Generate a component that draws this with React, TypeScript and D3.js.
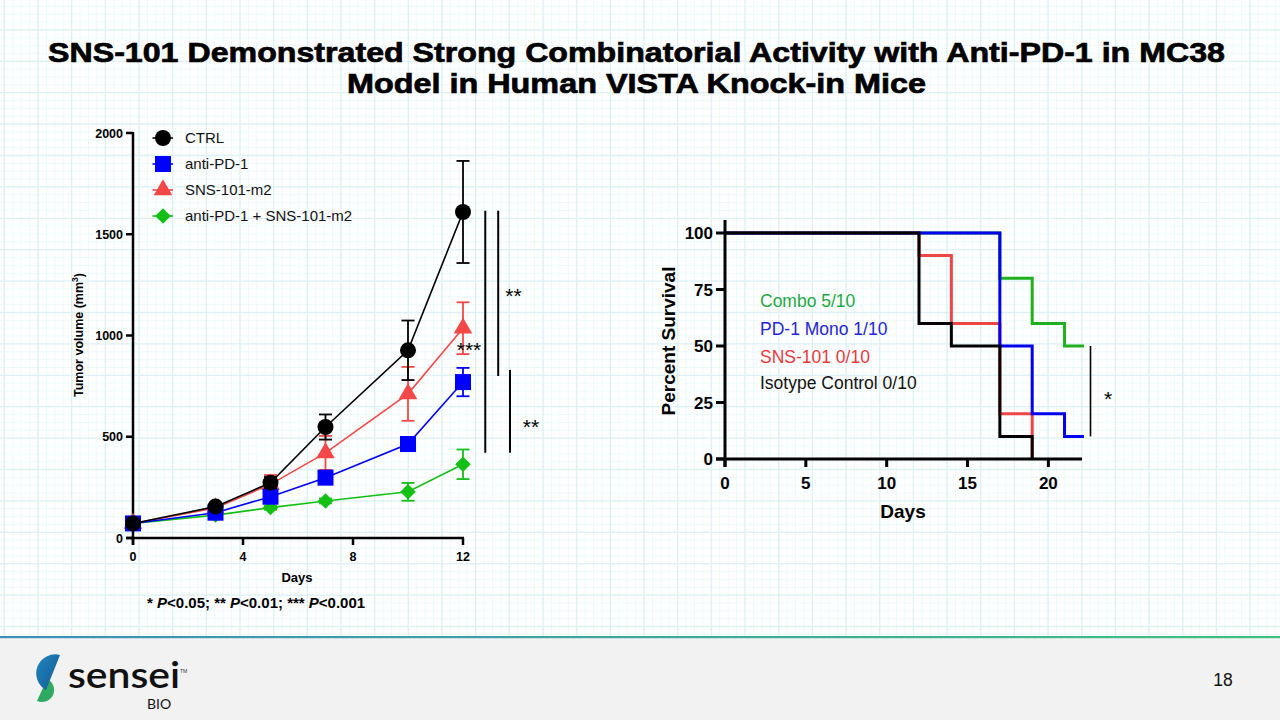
import React from 'react';
import * as d3 from 'd3';

// ---------- Tumor growth data ----------
const days = [0, 3, 5, 7, 10, 12];
const ctrlMean = [72, 155, 273, 548, 927, 1610];
const ctrlErr = [8, 12, 28, 62, 147, 252];
const pd1Mean = [72, 125, 204, 298, 464, 770];
const pd1Err = [6, 10, 15, 20, 20, 70];
const snsMean = [72, 148, 265, 420, 712, 1036];
const snsErr = [6, 10, 46, 84, 133, 128];
const comboMean = [72, 113, 150, 183, 228, 364];
const comboErr = [5, 8, 10, 12, 44, 73];
const leftYTicks = [0, 500, 1000, 1500, 2000];
const leftXTicks = [0, 4, 8, 12];
const leftLabels = ['CTRL', 'anti-PD-1', 'SNS-101-m2', 'anti-PD-1 + SNS-101-m2'];

// significance brackets: day position, from value, to value, label
const sigX = [12.81, 13.28, 13.71];
const sigFrom = [1616, 1616, 830];
const sigTo = [421, 800, 421];
const sigLabels = ['***', '**', '**'];

// ---------- Survival data ----------
const isoT = [0, 12, 14, 17, 19];
const isoS = [100, 60, 50, 10, 0];
const snsT = [0, 12, 14, 17, 19];
const snsS = [100, 90, 60, 20, 0];
const pdT = [0, 17, 19, 21, 22.2];
const pdS = [100, 50, 20, 10, 10];
const comboT = [0, 17, 19, 21, 22.2];
const comboS = [100, 80, 60, 50, 50];
const survXTicks = [0, 5, 10, 15, 20];
const survYTicks = [0, 25, 50, 75, 100];
const survLegend = ['Combo 5/10', 'PD-1 Mono 1/10', 'SNS-101 0/10', 'Isotype Control 0/10'];
const survSig = [50, 10];

const FONT = "'Liberation Sans', Arial, Helvetica, sans-serif";

const C_BLACK = '#000000';
const C_BLUE = '#0000ff';
const C_RED = '#f44848';
const C_GREEN = '#14c014';

function Marker({ kind, x, y, color }: { kind: string; x: number; y: number; color: string }) {
  if (kind === 'circle') return <circle cx={x} cy={y} r={8} fill={color} />;
  if (kind === 'square') return <rect x={x - 8} y={y - 8} width={16} height={16} fill={color} />;
  if (kind === 'triangle') {
    const p = d3.symbol().type(d3.symbolTriangle).size(150)();
    return <path d={p || ''} transform={`translate(${x},${y})`} fill={color} />;
  }
  const p = d3.symbol().type(d3.symbolSquare).size(120)();
  return <path d={p || ''} transform={`translate(${x},${y}) rotate(45)`} fill={color} />;
}

export default function App() {
  // grid
  const majX = 33.67, majY = 31.4;
  const gx0 = 4.3 - majX, gy0 = -1.5;
  const minorXs = d3.range(0, 44 * 4).map((i) => gx0 + (i * majX) / 4).filter((v) => v >= 0 && v <= 1280);
  const minorYs = d3.range(0, 22 * 4).map((i) => gy0 + (i * majY) / 4).filter((v) => v >= 0 && v <= 636);
  const majorXs = d3.range(0, 44).map((i) => gx0 + i * majX).filter((v) => v >= 0 && v <= 1280);
  const majorYs = d3.range(0, 22).map((i) => gy0 + i * majY).filter((v) => v >= 0 && v <= 636);

  // left chart scales
  const xL = d3.scaleLinear().domain([0, 12]).range([133, 463]);
  const yL = d3.scaleLinear().domain([0, 2000]).range([538, 133]);
  const series = [
    { name: 'combo', mean: comboMean, err: comboErr, color: C_GREEN, kind: 'diamond' },
    { name: 'sns', mean: snsMean, err: snsErr, color: C_RED, kind: 'triangle' },
    { name: 'pd1', mean: pd1Mean, err: pd1Err, color: C_BLUE, kind: 'square' },
    { name: 'ctrl', mean: ctrlMean, err: ctrlErr, color: C_BLACK, kind: 'circle' },
  ];
  const lineL = d3
    .line<number>()
    .x((_, i) => xL(days[i]))
    .y((d) => yL(d));

  const legendItems = [
    { label: leftLabels[0], color: C_BLACK, kind: 'circle' },
    { label: leftLabels[1], color: C_BLUE, kind: 'square' },
    { label: leftLabels[2], color: C_RED, kind: 'triangle' },
    { label: leftLabels[3], color: C_GREEN, kind: 'diamond' },
  ];
  const legendY = d3.scaleLinear().domain([0, 1]).range([138, 164]);

  // right chart scales
  const xR = d3.scaleLinear().domain([0, 22]).range([725, 1080.7]);
  const yR = d3.scaleLinear().domain([0, 100]).range([459, 233]);
  const stepLine = (t: number[], s: number[]) =>
    d3
      .line<number>()
      .x((_, i) => xR(t[i]))
      .y((d) => yR(d))
      .curve(d3.curveStepAfter)(s) || '';
  const curves = [
    { t: comboT, s: comboS, color: '#1fb01f' },
    { t: snsT, s: snsS, color: '#f04545' },
    { t: pdT, s: pdS, color: '#0000ee' },
    { t: isoT, s: isoS, color: '#000000' },
  ];
  const survLegendColors = ['#22a845', '#2424d8', '#e83a3a', '#111111'];
  const survLegendY = [307, 335, 363, 389];

  return (
    <svg
      width={1280}
      height={720}
      style={{ position: 'absolute', left: 0, top: 0, background: '#ffffff' }}
      fontFamily={FONT}
    >
      <defs>
        <linearGradient id="footLine" x1="0" x2="1" y1="0" y2="0">
          <stop offset="0" stopColor="#3a8fbd" />
          <stop offset="1" stopColor="#40bf80" />
        </linearGradient>
        <linearGradient id="logoBlue" x1="0" x2="1" y1="0" y2="1">
          <stop offset="0" stopColor="#1f86c0" />
          <stop offset="1" stopColor="#155a92" />
        </linearGradient>
      </defs>

      {/* graph-paper background */}
      <g>
        {minorXs.map((x, i) => (
          <line key={'mx' + i} x1={x} x2={x} y1={0} y2={636} stroke="#eef9fb" strokeWidth={1} />
        ))}
        {minorYs.map((y, i) => (
          <line key={'my' + i} x1={0} x2={1280} y1={y} y2={y} stroke="#eef9fb" strokeWidth={1} />
        ))}
        {majorXs.map((x, i) => (
          <line key={'Mx' + i} x1={x} x2={x} y1={0} y2={636} stroke="#def2f6" strokeWidth={1.3} />
        ))}
        {majorYs.map((y, i) => (
          <line key={'My' + i} x1={0} x2={1280} y1={y} y2={y} stroke="#def2f6" strokeWidth={1.3} />
        ))}
      </g>

      {/* title */}
      <g fontWeight="bold" fontSize={28} fill="#000" stroke="#000" strokeWidth={0.7} textAnchor="middle">
        <text x={636.5} y={62} textLength={1177} lengthAdjust="spacingAndGlyphs">
          SNS-101 Demonstrated Strong Combinatorial Activity with Anti-PD-1 in MC38
        </text>
        <text x={636.5} y={93} textLength={579} lengthAdjust="spacingAndGlyphs">
          Model in Human VISTA Knock-in Mice
        </text>
      </g>

      {/* ---------- left chart ---------- */}
      <g>
        {/* axes */}
        <line x1={xL(0)} x2={xL(0)} y1={yL(2000) - 1} y2={yL(0) + 7} stroke="#000" strokeWidth={2.5} />
        <line x1={xL(0) - 7} x2={xL(12) + 1} y1={yL(0)} y2={yL(0)} stroke="#000" strokeWidth={2.5} />
        {leftYTicks.map((t) => (
          <g key={'ly' + t}>
            <line x1={xL(0) - 7} x2={xL(0)} y1={yL(t)} y2={yL(t)} stroke="#000" strokeWidth={2.5} />
            <text x={xL(0) - 10} y={yL(t) + 4.5} fontSize={12.5} fontWeight="bold" textAnchor="end">
              {t}
            </text>
          </g>
        ))}
        {leftXTicks.map((t) => (
          <g key={'lx' + t}>
            <line x1={xL(t)} x2={xL(t)} y1={yL(0)} y2={yL(0) + 7} stroke="#000" strokeWidth={2.5} />
            <text x={xL(t)} y={561} fontSize={12.5} fontWeight="bold" textAnchor="middle">
              {t}
            </text>
          </g>
        ))}
        <text x={297} y={582} fontSize={13} fontWeight="bold" textAnchor="middle">
          Days
        </text>
        <text
          transform="translate(83,335) rotate(-90)"
          fontSize={12.5}
          fontWeight="bold"
          textAnchor="middle"
        >
          Tumor volume (mm
          <tspan fontSize={8.5} dy={-5}>
            3
          </tspan>
          <tspan dy={5}>)</tspan>
        </text>

        {/* series */}
        {series.map((s) => (
          <g key={s.name}>
            <path d={lineL(s.mean) || ''} fill="none" stroke={s.color} strokeWidth={1.6} />
            {s.mean.map((m, i) => (
              <g key={i} stroke={s.color} strokeWidth={1.8}>
                <line x1={xL(days[i])} x2={xL(days[i])} y1={yL(m + s.err[i])} y2={yL(m - s.err[i])} />
                <line x1={xL(days[i]) - 6.5} x2={xL(days[i]) + 6.5} y1={yL(m + s.err[i])} y2={yL(m + s.err[i])} />
                <line x1={xL(days[i]) - 6.5} x2={xL(days[i]) + 6.5} y1={yL(m - s.err[i])} y2={yL(m - s.err[i])} />
              </g>
            ))}
            {s.mean.map((m, i) => (
              <Marker key={'m' + i} kind={s.kind} x={xL(days[i])} y={yL(m)} color={s.color} />
            ))}
          </g>
        ))}

        {/* significance */}
        {sigX.map((sx, i) => (
          <line key={'sig' + i} x1={xL(sx)} x2={xL(sx)} y1={yL(sigFrom[i])} y2={yL(sigTo[i])} stroke="#000" strokeWidth={2} />
        ))}
        <text x={469} y={357} fontSize={21} textAnchor="middle">
          {sigLabels[0]}
        </text>
        <text x={513.5} y={303} fontSize={21} textAnchor="middle">
          {sigLabels[1]}
        </text>
        <text x={531} y={434} fontSize={21} textAnchor="middle">
          {sigLabels[2]}
        </text>

        {/* legend */}
        {legendItems.map((l, i) => (
          <g key={'lg' + i}>
            <line x1={152.5} x2={173} y1={legendY(i)} y2={legendY(i)} stroke={l.color} strokeWidth={1.6} />
            <Marker kind={l.kind} x={163} y={legendY(i)} color={l.color} />
            <text x={185} y={legendY(i) + 5.3} fontSize={15} fill="#111">
              {l.label}
            </text>
          </g>
        ))}

        {/* footnote */}
        <text x={147} y={608} fontSize={15} fontWeight="bold">
          * <tspan fontStyle="italic">P</tspan>&lt;0.05; ** <tspan fontStyle="italic">P</tspan>&lt;0.01; ***{' '}
          <tspan fontStyle="italic">P</tspan>&lt;0.001
        </text>
      </g>

      {/* ---------- right chart ---------- */}
      <g>
        {curves.map((c, i) => (
          <path key={'cv' + i} d={stepLine(c.t, c.s)} fill="none" stroke={c.color} strokeWidth={3} />
        ))}
        <line x1={xR(0)} x2={xR(0)} y1={220} y2={yR(0) + 8} stroke="#000" strokeWidth={3} />
        <line x1={xR(0) - 9} x2={1082} y1={yR(0)} y2={yR(0)} stroke="#000" strokeWidth={3} />
        {survYTicks.map((t) => (
          <g key={'ry' + t}>
            <line x1={xR(0) - 9} x2={xR(0)} y1={yR(t)} y2={yR(t)} stroke="#000" strokeWidth={3} />
            <text x={713} y={yR(t) + 6} fontSize={17} fontWeight="bold" textAnchor="end">
              {t}
            </text>
          </g>
        ))}
        {survXTicks.map((t) => (
          <g key={'rx' + t}>
            <line x1={xR(t)} x2={xR(t)} y1={yR(0)} y2={yR(0) + 8} stroke="#000" strokeWidth={3} />
            <text x={xR(t)} y={489} fontSize={17} fontWeight="bold" textAnchor="middle">
              {t}
            </text>
          </g>
        ))}
        <text x={903} y={518} fontSize={19} fontWeight="bold" textAnchor="middle">
          Days
        </text>
        <text transform="translate(675,341) rotate(-90)" fontSize={19} fontWeight="bold" textAnchor="middle">
          Percent Survival
        </text>
        {survLegend.map((l, i) => (
          <text key={'sl' + i} x={760} y={survLegendY[i]} fontSize={17.5} fill={survLegendColors[i]}>
            {l}
          </text>
        ))}
        <line x1={1090.5} x2={1090.5} y1={yR(survSig[0])} y2={yR(survSig[1])} stroke="#000" strokeWidth={1.6} />
        <text x={1108} y={406} fontSize={21} textAnchor="middle">
          *
        </text>
      </g>

      {/* ---------- footer ---------- */}
      <rect x={0} y={638} width={1280} height={82} fill="#f2f2f2" />
      <rect x={0} y={636} width={1280} height={2.2} fill="url(#footLine)" />
      <g>
        <path d="M47,679 A11.5,11.5 0 0 1 37,701 Z" fill="#2faa62" />
        <path d="M60,655 L46,690 A19,19 0 0 1 60,655 Z" fill="url(#logoBlue)" />
        <text x={68} y={688} fontSize={37} fontFamily="Lato, 'Open Sans', sans-serif" fontWeight={600} textLength={112} lengthAdjust="spacingAndGlyphs" fill="#111">
          sensei
        </text>
        <text x={180} y={673} fontSize={5} fill="#333">
          TM
        </text>
        <text x={147} y={709} fontSize={14} fontFamily="Lato, 'Open Sans', sans-serif" fill="#111">
          BIO
        </text>
      </g>
      <text x={1223} y={686} fontSize={17.5} textAnchor="middle" fill="#111">
        18
      </text>
    </svg>
  );
}
